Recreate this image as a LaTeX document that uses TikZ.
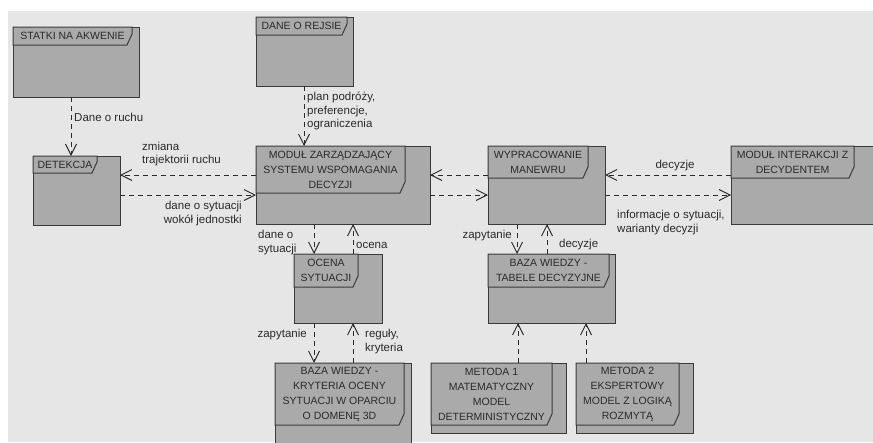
\documentclass[tikz,border=0pt]{standalone}
\usepackage{fontspec}
\setmainfont{Liberation Sans}
\usetikzlibrary{arrows.meta,fit}
\definecolor{bg}{HTML}{E6E6E6}
\definecolor{boxfill}{HTML}{AAAAAA}
\definecolor{boxline}{HTML}{3A3A3A}
\definecolor{txt}{HTML}{2A2A2A}
\tikzset{
 boxsty/.style={draw=boxline, fill=boxfill, line width=1pt, inner sep=0pt, outer sep=0pt},
 tabsty/.style={draw=boxline, fill=boxfill, line width=1pt, line join=miter},
 boxtext/.style={font=\fontsize{10.5}{15}\selectfont, text=txt, align=center, inner sep=0pt},
 lbl/.style={font=\fontsize{11.5}{13.5}\selectfont, text=txt, inner sep=0pt},
 dep/.style={draw=txt, line width=0.9pt, dash pattern=on 5pt off 4pt, -{Straight Barb[length=11pt,width=11pt,line width=0.9pt]}},
}
\newcommand\umlbox[8]{%
 \coordinate (#1-nw) at (#2,-#3);
 \coordinate (#1-se) at (#4,-#5);
 \node[boxsty, fit=(#1-nw)(#1-se)] (#1) {};
 \draw[tabsty] (#2,-#3) -- (#6,-#3) -- (#6,{-#7+11}) -- ({#6-5},-#7) -- (#2,-#7) -- cycle;
 \node[boxtext] (#1-t) at ({(#2+#6)/2},{-(#3+#7)/2}) {#8};
}
\begin{document}
\begin{tikzpicture}[x=1pt,y=1pt]
\useasboundingbox (0,0) rectangle (873,-442);
\clip (0,0) rectangle (873,-442);
\fill[white] (0,0) rectangle (873,-442);
\fill[bg] (8,-11) rectangle (873,-442);

\umlbox{statki}{13}{27}{139}{97}{132}{45}{STATKI NA AKWENIE}
\umlbox{rejs}{256}{17}{353}{86}{347}{35}{DANE O REJSIE}
\umlbox{detek}{33}{156}{120}{225}{97}{173}{DETEKCJA}
\umlbox{modul}{256}{146}{430}{224}{405}{193}{MODUŁ ZARZĄDZAJĄCY\\SYSTEMU WSPOMAGANIA\\DECYZJI}
\umlbox{wypr}{488}{146}{605}{224}{588}{178}{WYPRACOWANIE\\MANEWRU}
\umlbox{inter}{731}{146}{890}{224}{854}{178}{MODUŁ INTERAKCJI Z\\DECYDENTEM}
\umlbox{ocena}{294}{254}{382}{323}{358}{287}{OCENA\\SYTUACJI}
\umlbox{tabele}{488}{254}{615}{323}{609}{287}{BAZA WIEDZY -\\TABELE DECYZYJNE}
\umlbox{kryt}{275}{363}{411}{470}{404}{425}{BAZA WIEDZY -\\KRYTERIA OCENY\\SYTUACJI W OPARCIU\\O DOMENĘ 3D}
\umlbox{met1}{431}{363}{566}{433}{552}{425}{METODA 1\\MATEMATYCZNY\\MODEL\\DETERMINISTYCZNY}
\umlbox{met2}{576}{363}{693}{433}{679}{425}{METODA 2\\EKSPERTOWY\\MODEL Z LOGIKĄ\\ROZMYTĄ}

% connectors
\draw[dep] (statki.south -| 71,0) -- (detek.north -| 71,0);
\draw[dep] (rejs.south -| 304,0) -- (modul.north -| 304,0);
\draw[dep] (modul.west |- 0,-175) -- (detek.east |- 0,-175);
\draw[dep] (detek.east |- 0,-195) -- (modul.west |- 0,-195);
\draw[dep] (wypr.west |- 0,-175) -- (modul.east |- 0,-175);
\draw[dep] (modul.east |- 0,-195) -- (wypr.west |- 0,-195);
\draw[dep] (inter.west |- 0,-175) -- (wypr.east |- 0,-175);
\draw[dep] (wypr.east |- 0,-195) -- (inter.west |- 0,-195);
\draw[dep] (modul.south -| 314,0) -- (ocena.north -| 314,0);
\draw[dep] (ocena.north -| 353,0) -- (modul.south -| 353,0);
\draw[dep] (ocena.south -| 314,0) -- (kryt.north -| 314,0);
\draw[dep] (kryt.north -| 353,0) -- (ocena.south -| 353,0);
\draw[dep] (wypr.south -| 517,0) -- (tabele.north -| 517,0);
\draw[dep] (tabele.north -| 547,0) -- (wypr.south -| 547,0);
\draw[dep] (met1.north -| 518,0) -- (tabele.south -| 518,0);
\draw[dep] (met2.north -| 586,0) -- (tabele.south -| 586,0);

% labels
\node[lbl, anchor=west] (l1) at (74,-117) {Dane o ruchu};
\node[lbl, anchor=west, align=left] (l2) at (307,-111) {plan podróży,\\preferencje,\\ograniczenia};
\node[lbl, anchor=west, align=left] (l3) at (142,-154) {zmiana\\trajektorii ruchu};
\node[lbl, anchor=east, align=right] (l4) at (242,-213.5) {dane o sytuacji\\wokół jednostki};
\node[lbl] (l5) at (675,-166) {decyzje};
\node[lbl, anchor=west, align=left] (l6) at (617,-222.5) {informacje o sytuacji,\\warianty decyzji};
\node[lbl, anchor=west, align=left] (l7) at (258,-242.5) {dane o\\sytuacji};
\node[lbl, anchor=west] (l8) at (356,-245) {ocena};
\node[lbl, anchor=east] (l9) at (307,-335) {zapytanie};
\node[lbl, anchor=west, align=left] (l10) at (365,-341.5) {reguły,\\kryteria};
\node[lbl, anchor=east] (l11) at (512,-236) {zapytanie};
\node[lbl, anchor=west] (l12) at (559,-245) {decyzje};
\end{tikzpicture}
\end{document}
